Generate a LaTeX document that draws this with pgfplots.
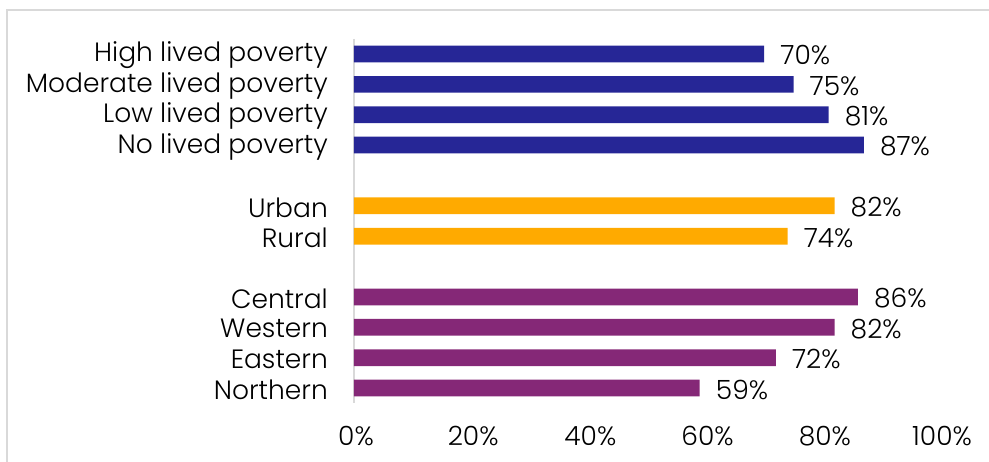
\documentclass[border=0pt]{standalone}
\usepackage{pgfplots}
\pgfplotsset{compat=1.18}
\usepackage{fontspec}
\setmainfont{Poppins}[UprightFont=* Light]
\definecolor{cblue}{RGB}{38,38,150}
\definecolor{corange}{RGB}{255,170,0}
\definecolor{cpurple}{RGB}{133,40,119}
\definecolor{cgrid}{RGB}{217,217,217}
\begin{document}
\begin{tikzpicture}[x=1pt,y=1pt]
\useasboundingbox (0,0) rectangle (989,461);
\draw[cgrid, line width=1.5pt] (7,-5) -- (7,451) -- (995,451);
\begin{axis}[
  at={(354pt,422.2pt)}, anchor=north west,
  scale only axis, width=586pt, height=364.4pt,
  xbar, bar width=16.7pt, bar shift=0pt,
  xmin=0, xmax=100, ymin=-0.5, ymax=11.5, y dir=reverse,
  axis lines*=left,
  x axis line style={draw=none},
  y axis line style={draw=cgrid, line width=2pt},
  major tick length=0pt,
  xtick={0,20,40,60,80,100},
  xticklabel={\pgfmathprintnumber{\tick}\%},
  /pgf/number format/assume math mode=true,
  ytick={0,1,2,3,5,6,8,9,10,11},
  yticklabels={High lived poverty, Moderate lived poverty, Low lived poverty, No lived poverty, Urban\hspace{7pt}, Rural\hspace{7pt}, Central, Western, Eastern, Northern},
  tick label style={font=\fontsize{26.5}{29}\selectfont, text=black},
  y tick label style={anchor=east, inner sep=0pt, xshift=-26pt, yshift=-1.5pt},
  x tick label style={anchor=north, inner sep=0pt, yshift=-23pt, xshift=2pt},
  point meta=x,
  nodes near coords={\pgfmathprintnumber{\pgfplotspointmeta}\%},
  nodes near coords style={anchor=west, inner sep=0pt, xshift=16pt, yshift=-1.5pt, font=\fontsize{26.5}{29}\selectfont, text=black},
  every axis plot/.append style={draw=none},
]
\addplot[fill=cblue] coordinates {(70,0) (75,1) (81,2) (87,3)};
\addplot[fill=corange] coordinates {(82,5) (74,6)};
\addplot[fill=cpurple] coordinates {(86,8) (82,9) (72,10) (59,11)};
\end{axis}
\end{tikzpicture}
\end{document}
